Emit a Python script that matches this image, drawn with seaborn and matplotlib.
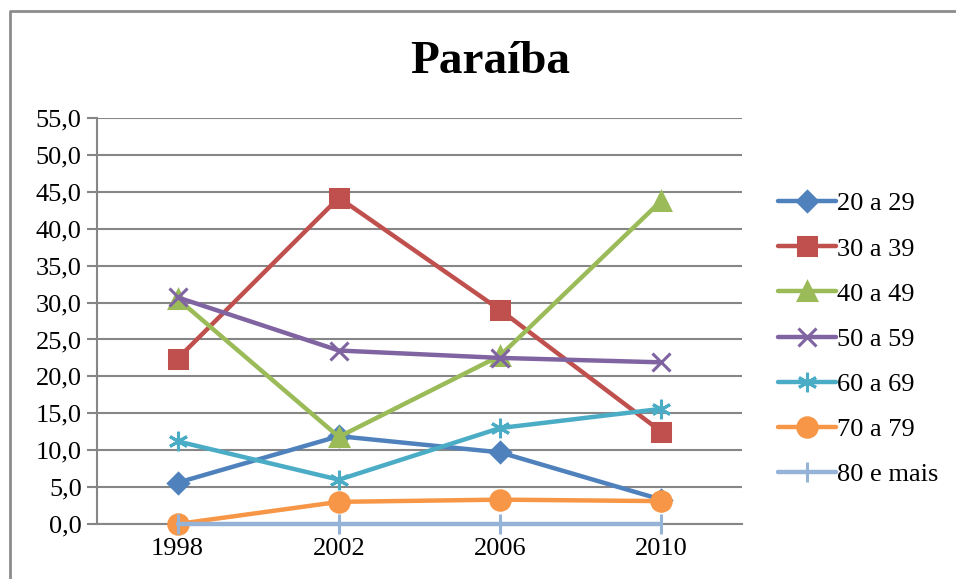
import pandas as pd
import seaborn as sns
import matplotlib.pyplot as plt
from matplotlib.lines import Line2D
from matplotlib.ticker import FuncFormatter, FixedLocator

# --- Data ---
years = ["1998", "2002", "2006", "2010"]
faixa_20_29 = [5.6, 11.9, 9.7, 3.3]
faixa_30_39 = [22.4, 44.2, 29.0, 12.5]
faixa_40_49 = [30.5, 11.8, 22.8, 43.8]
faixa_50_59 = [30.7, 23.5, 22.5, 21.9]
faixa_60_69 = [11.2, 6.0, 13.0, 15.6]
faixa_70_79 = [0.0, 3.0, 3.3, 3.1]
faixa_80_mais = [0.0, 0.0, 0.0, 0.0]

labels = ["20 a 29", "30 a 39", "40 a 49", "50 a 59", "60 a 69", "70 a 79", "80 e mais"]
series = [faixa_20_29, faixa_30_39, faixa_40_49, faixa_50_59,
          faixa_60_69, faixa_70_79, faixa_80_mais]

df = pd.DataFrame(dict(zip(labels, series)))
df["pos"] = range(len(years))

# --- Styles (Excel 2007 look) ---
colors = ["#4F81BD", "#C0504D", "#9BBB59", "#8064A2", "#4BACC6", "#F79646", "#95B3D7"]
markers = ["D", "s", "^", "x", (6, 2, 0), "o", "|"]
msizes = [10, 13, 13, 13, 14, 14, 14]

sns.set_style("white")
plt.rcParams["font.family"] = ["Liberation Serif", "DejaVu Serif"]
plt.rcParams["text.color"] = "black"

fig = plt.figure(figsize=(9.56, 5.79), dpi=100)
ax = fig.add_axes([97 / 956, 1 - 524 / 579, (742 - 97) / 956, (524 - 118) / 579])

grid_col = "#868686"
for y in range(0, 56, 5):
    ax.axhline(y, color=grid_col, lw=1.5, zorder=1)

for lab, col, mk, ms in zip(labels, colors, markers, msizes):
    sns.lineplot(data=df, x="pos", y=lab, ax=ax, color=col, marker=mk,
                 markersize=ms, markeredgecolor=col, markerfacecolor=col,
                 markeredgewidth=2.2, lw=3.2, label=lab, clip_on=False, zorder=3)

ax.set_xlim(-0.5, 3.5)
ax.set_ylim(0, 55)
ax.set_xlabel("")
ax.set_ylabel("")

ax.set_xticks(range(len(years)))
ax.set_xticklabels(years)
ax.xaxis.set_minor_locator(FixedLocator([-0.5, 0.5, 1.5, 2.5, 3.5]))
ax.tick_params(axis="x", which="major", length=0, pad=10, labelsize=19)
ax.tick_params(axis="x", which="minor", length=7, width=1.5, color=grid_col, direction="out")
ax.set_yticks(range(0, 56, 5))
ax.yaxis.set_major_formatter(FuncFormatter(lambda v, p: f"{v:.1f}".replace(".", ",")))
ax.tick_params(axis="y", length=7, width=1.5, color=grid_col, direction="out", pad=4, labelsize=19)
ax.tick_params(axis="both", bottom=True, left=True, labelcolor="black")

for side in ["top", "right"]:
    ax.spines[side].set_visible(False)
for side in ["left", "bottom"]:
    ax.spines[side].set_color(grid_col)
    ax.spines[side].set_linewidth(1.5)
    ax.spines[side].set_zorder(2)

handles, labs = ax.get_legend_handles_labels()
ax.legend_.remove()
fig.legend(handles, labs, loc="upper left", bbox_to_anchor=(778 / 956, 1 - 192 / 579),
           bbox_transform=fig.transFigure, frameon=False, fontsize=19,
           handlelength=2.2, handletextpad=0.05, labelspacing=0.82,
           borderaxespad=0, borderpad=0, labelcolor="black")

fig.text(490 / 956, 1 - 62 / 579, "Paraíba", ha="center", va="center",
         fontsize=34, fontweight="bold", color="black")

# chart area border
fig.add_artist(Line2D([10 / 956, 10 / 956, 1], [0, 1 - 11 / 579, 1 - 11 / 579],
                      transform=fig.transFigure, color="#8c8c8c", lw=2))

fig.savefig("out.png", dpi=100)
